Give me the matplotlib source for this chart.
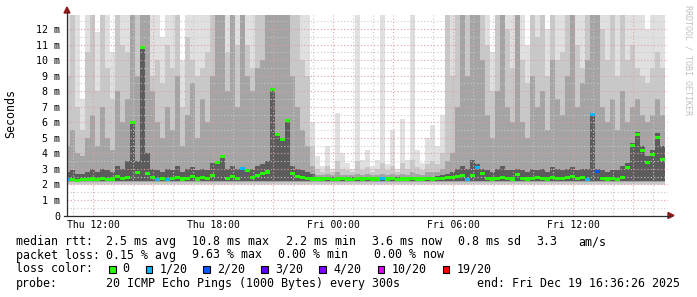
import numpy as np
import matplotlib.pyplot as plt
from matplotlib.patches import Rectangle, Polygon
from matplotlib.lines import Line2D

# smokeping style graph, 15 min bins, x is hours counted from Thu 00:00
t_start = 10.6
t_step = 0.25

# median rtt per bin (ms)
median = [2.3, 2.3, 2.25, 2.3, 2.3, 2.35, 2.3, 2.4, 2.3, 2.35, 2.5, 2.4,
          2.45, 6.0, 2.75, 10.8, 2.7, 2.45, 2.3, 2.4, 2.3, 2.4, 2.45, 2.35,
          2.4, 2.5, 2.35, 2.45, 2.4, 2.6, 3.4, 3.8, 2.4, 2.5, 2.4, 3.0,
          2.9, 2.45, 2.6, 2.7, 2.8, 8.1, 5.2, 4.9, 6.1, 2.7, 2.5, 2.45,
          2.4, 2.35, 2.35, 2.35, 2.4, 2.3, 2.35, 2.4, 2.35, 2.3, 2.4, 2.35,
          2.4, 2.35, 2.35, 2.4, 2.35, 2.4, 2.3, 2.35, 2.35, 2.4, 2.35, 2.35,
          2.4, 2.35, 2.4, 2.4, 2.45, 2.45, 2.5, 2.6, 2.3, 2.6, 3.1, 2.7,
          2.4, 2.35, 2.4, 2.45, 2.4, 2.35, 2.65, 2.4, 2.35, 2.4, 2.45, 2.4,
          2.35, 2.45, 2.4, 2.4, 2.45, 2.5, 2.4, 2.45, 2.3, 6.5, 2.85, 2.4,
          2.35, 2.4, 2.3, 2.45, 3.1, 4.5, 5.2, 4.2, 3.4, 3.9, 5.0, 3.6]

# lost pings out of 20 per bin
loss = [1, 0, 0, 0, 0, 0, 0, 0, 0, 0, 0, 0,
        0, 0, 0, 0, 0, 0, 1, 0, 1, 0, 0, 0,
        0, 0, 0, 0, 0, 0, 0, 0, 0, 0, 0, 1,
        0, 0, 0, 0, 0, 0, 0, 0, 0, 0, 0, 0,
        0, 0, 0, 0, 0, 0, 0, 0, 0, 0, 0, 0,
        0, 0, 0, 1, 0, 0, 0, 0, 0, 0, 0, 0,
        0, 0, 0, 0, 0, 0, 0, 0, 1, 0, 1, 0,
        0, 0, 0, 0, 0, 0, 0, 0, 0, 0, 0, 0,
        0, 0, 0, 0, 0, 0, 0, 0, 1, 1, 2, 0,
        0, 0, 0, 0, 0, 0, 0, 0, 0, 0, 0, 0]

# smoke: upper edge of each shade (ms), lightest first
smoke_top = [12.9, 12.9, 12.9, 7.5, 12.9, 12.9, 11.8, 12.9, 12.9, 10.5, 12.9, 12.9,
             12.9, 12.9, 12.9, 12.9, 12.9, 12.9, 12.9, 11.5, 12.9, 12.9, 12.9, 10.0,
             12.9, 12.9, 12.9, 12.9, 12.9, 12.9, 12.9, 12.9, 12.9, 12.9, 12.9, 12.9,
             12.9, 12.9, 12.9, 12.9, 12.9, 12.9, 12.9, 12.9, 12.9, 12.9, 12.9, 12.9,
             12.9, 6.0, 3.8, 3.2, 4.5, 3.0, 6.6, 4.0, 3.4, 3.0, 12.9, 3.6,
             4.2, 3.2, 3.6, 12.9, 3.3, 5.5, 3.0, 6.2, 3.6, 12.9, 4.2, 3.4,
             5.0, 5.8, 4.5, 6.5, 12.9, 12.9, 12.9, 12.9, 12.9, 12.9, 12.9, 12.9,
             12.9, 10.5, 12.9, 12.9, 12.9, 12.9, 12.9, 12.9, 11.0, 12.9, 12.9, 12.9,
             12.0, 12.9, 12.9, 12.9, 12.9, 12.9, 12.9, 12.9, 12.9, 12.9, 12.9, 12.9,
             12.9, 12.9, 12.9, 12.9, 12.9, 12.9, 12.9, 12.9, 12.0, 12.9, 12.9, 12.9]

smoke_mid = [9.0, 12.9, 7.0, 5.5, 10.5, 12.9, 8.0, 12.9, 9.5, 7.5, 12.9, 11.0,
             10.5, 12.9, 12.9, 12.9, 12.9, 9.0, 10.0, 8.5, 11.0, 9.5, 12.9, 7.0,
             11.5, 10.0, 9.0, 9.5, 10.5, 12.9, 12.9, 12.9, 10.5, 12.9, 11.0, 12.9,
             11.0, 9.5, 12.9, 12.9, 12.9, 12.9, 12.9, 12.9, 12.9, 12.9, 12.9, 10.0,
             9.0, 4.5, 3.0, 2.8, 3.2, 2.8, 3.5, 3.0, 2.9, 2.8, 3.5, 2.9,
             3.1, 2.8, 3.0, 3.4, 2.9, 3.2, 2.8, 3.4, 3.0, 3.6, 3.1, 2.9,
             3.3, 3.5, 3.3, 4.0, 12.9, 9.0, 12.9, 12.9, 12.9, 12.9, 12.9, 12.9,
             11.0, 8.0, 12.9, 12.9, 12.0, 9.5, 12.9, 10.0, 8.5, 12.9, 11.5, 12.9,
             9.0, 12.9, 10.0, 10.5, 12.9, 12.9, 11.0, 9.5, 12.9, 12.9, 12.9, 12.0,
             10.0, 12.9, 9.0, 12.9, 10.0, 11.0, 9.5, 9.0, 8.5, 9.5, 10.5, 9.5]

smoke_inner = [4.5, 5.5, 4.0, 3.8, 5.0, 6.5, 4.5, 7.0, 5.0, 4.2, 8.0, 6.0,
               7.5, 12.9, 9.0, 12.9, 12.9, 8.0, 6.0, 5.0, 7.0, 5.5, 9.0, 4.5,
               6.5, 8.5, 5.0, 7.5, 6.0, 9.0, 12.9, 12.9, 8.0, 12.9, 7.0, 12.9,
               9.0, 8.0, 9.5, 10.0, 12.9, 12.9, 12.9, 12.9, 12.9, 9.0, 7.0, 5.5,
               4.5, 3.2, 2.6, 2.6, 2.7, 2.6, 2.8, 2.6, 2.6, 2.6, 2.7, 2.6,
               2.7, 2.6, 2.6, 2.7, 2.6, 2.7, 2.6, 2.7, 2.6, 2.8, 2.7, 2.6,
               2.8, 2.8, 2.8, 3.0, 3.5, 4.0, 7.0, 12.9, 9.0, 12.9, 12.9, 10.0,
               6.5, 5.0, 8.0, 12.9, 7.0, 6.0, 12.9, 6.0, 5.0, 9.0, 7.0, 8.0,
               5.5, 10.0, 7.5, 6.5, 9.0, 12.9, 7.0, 8.5, 10.0, 12.9, 12.9, 7.0,
               6.0, 7.5, 5.5, 8.0, 6.0, 7.0, 7.5, 6.5, 6.0, 6.5, 7.5, 6.5]

smoke_core = [2.8, 2.9, 2.7, 2.7, 2.8, 3.0, 2.8, 3.0, 2.9, 2.8, 3.2, 3.0,
              3.5, 6.0, 3.5, 10.8, 4.0, 3.0, 2.9, 2.8, 3.0, 2.9, 3.2, 2.8,
              3.0, 3.1, 2.9, 3.0, 2.9, 3.4, 3.4, 3.8, 3.0, 3.2, 3.0, 3.1,
              3.0, 3.0, 3.2, 3.3, 3.5, 8.1, 5.2, 4.9, 6.1, 3.2, 3.0, 2.9,
              2.8, 2.7, 2.45, 2.45, 2.5, 2.45, 2.5, 2.45, 2.45, 2.45, 2.5, 2.45,
              2.5, 2.45, 2.45, 2.5, 2.45, 2.5, 2.45, 2.5, 2.45, 2.5, 2.5, 2.45,
              2.5, 2.5, 2.55, 2.6, 2.7, 2.8, 3.0, 3.2, 3.0, 3.6, 3.3, 3.0,
              2.9, 2.8, 3.0, 3.2, 2.9, 2.9, 3.0, 2.9, 2.8, 3.0, 2.9, 3.0,
              2.8, 3.1, 3.0, 2.9, 3.0, 3.1, 2.9, 3.0, 3.0, 6.5, 3.0, 2.9,
              2.8, 2.9, 2.9, 3.2, 3.4, 4.7, 5.4, 4.5, 3.8, 4.2, 5.3, 4.5]

loss_levels = [0, 1, 2, 3, 4, 10, 19]
loss_labels = ["0", "1/20", "2/20", "3/20", "4/20", "10/20", "19/20"]
loss_colors = ["#26ff00", "#00b8ff", "#0059ff", "#5e00ff", "#7e00ff", "#dd00ff", "#ff0000"]

tick_hours = [12, 18, 24, 30, 36]
tick_labels = ["Thu 12:00", "Thu 18:00", "Fri 00:00", "Fri 06:00", "Fri 12:00"]

W, H = 697, 297
MONO = "DejaVu Sans Mono"


def fx(x):
    return x / W


def fy(y):
    return 1 - y / H


def loss_color(n):
    col = loss_colors[0]
    for lvl, c in zip(loss_levels, loss_colors):
        if n >= lvl:
            col = c
    return col


t = t_start + t_step * np.arange(len(median))

fig = plt.figure(figsize=(W / 100, H / 100), dpi=100)
fig.patch.set_facecolor("white")
ax = fig.add_axes([fx(67), fy(215.5), (668 - 67) / W, (215.5 - 15) / H])
ax.set_xlim(10.7, 40.75)
ax.set_ylim(0, 12.91)

# smoke, light to dark
layers = [(smoke_top, 1.95, "#e0e0e0"), (smoke_mid, 2.05, "#c8c8c8"),
          (smoke_inner, 2.15, "#a4a4a4"), (smoke_core, 2.2, "#5c5c5c")]
for vals, base, col in layers:
    v = np.array(vals)
    ax.bar(t, v - base, bottom=base, width=t_step, align="edge",
           color=col, linewidth=0, zorder=1)

# grid on top of smoke
for h in range(11, 41):
    col = "#e0a0a0" if h % 3 == 0 else "#c8c8c8"
    ax.axvline(h, color=col, lw=0.8, ls=(0, (1, 2)), zorder=2)
for k in range(1, 26):
    col = "#e0a0a0" if k % 2 == 0 else "#c8c8c8"
    ax.axhline(k / 2, color=col, lw=0.8, ls=(0, (1, 2)), zorder=2)

# median dashes coloured by loss
med = np.array(median)
ax.bar(t, 0.2, bottom=med - 0.1, width=t_step, align="edge",
       color=[loss_color(n) for n in loss], linewidth=0, zorder=4)

for s in ax.spines.values():
    s.set_visible(False)

ax.set_yticks(range(13))
ax.set_yticklabels(["0"] + ["%d m" % i for i in range(1, 13)])
ax.set_xticks(tick_hours)
ax.set_xticklabels(tick_labels)
ax.tick_params(axis="y", length=0, pad=5, labelsize=7.2)
ax.tick_params(axis="x", length=0, pad=3.5, labelsize=7.0)
for lab in ax.get_xticklabels() + ax.get_yticklabels():
    lab.set_family(MONO)

# axis lines with arrows
fig.add_artist(Line2D([fx(67), fx(67)], [fy(215.5), fy(12)], color="#2c2c2c", lw=0.9))
fig.add_artist(Line2D([fx(64), fx(670)], [fy(215.5), fy(215.5)], color="#2c2c2c", lw=0.9))
fig.add_artist(Polygon([[fx(64), fy(13)], [fx(70), fy(13)], [fx(67), fy(7)]],
                       closed=True, color="#8b1a1a", transform=fig.transFigure))
fig.add_artist(Polygon([[fx(668), fy(212.5)], [fx(668), fy(218.5)], [fx(674), fy(215.5)]],
                       closed=True, color="#8b1a1a", transform=fig.transFigure))

fig.text(fx(11), fy(114), "Seconds", rotation=90, ha="center", va="center",
         fontsize=8.35, family=MONO)
fig.text(fx(688), fy(5), "RRDTOOL / TOBI OETIKER", rotation=270, ha="center", va="top",
         fontsize=6, family=MONO, color="#c0c0c0")

# legend block
rows = [
    (241.7, [(16, "median rtt:"), (106.5, "2.5 ms avg"), (192.5, "10.8 ms max"),
             (286, "2.2 ms min"), (372.3, "3.6 ms now"), (458, "0.8 ms sd"),
             (536.3, "3.3"), (578, "am/s")]),
    (255.0, [(16, "packet loss:"), (106.5, "0.15 % avg"), (192.5, "9.63 % max"),
             (278.5, "0.00 % min"), (374, "0.00 % now")]),
    (269.0, [(16, "loss color:")]),
    (283.3, [(16, "probe:"), (106.5, "20 ICMP Echo Pings (1000 Bytes) every 300s")]),
]
for y, items in rows:
    for x, s in items:
        fig.text(fx(x), fy(y), s, ha="left", va="center", fontsize=8.35, family=MONO)

box_x = [109, 145.7, 203.3, 261, 319.3, 378, 443]
lab_x = [122.6, 160, 217.6, 275.3, 333.6, 391.3, 456.3]
for bx, lx, lab, col in zip(box_x, lab_x, loss_labels, loss_colors):
    fig.add_artist(Rectangle((fx(bx), fy(272.5)), 6.5 / W, 6.5 / H, facecolor=col,
                             edgecolor="black", lw=0.8, transform=fig.transFigure))
    fig.text(fx(lx), fy(269.0), lab, ha="left", va="center", fontsize=8.35, family=MONO)

fig.text(fx(680), fy(283.3), "end: Fri Dec 19 16:36:26 2025", ha="right", va="center",
         fontsize=8.35, family=MONO)

fig.savefig("out.png", dpi=100, facecolor="white")
